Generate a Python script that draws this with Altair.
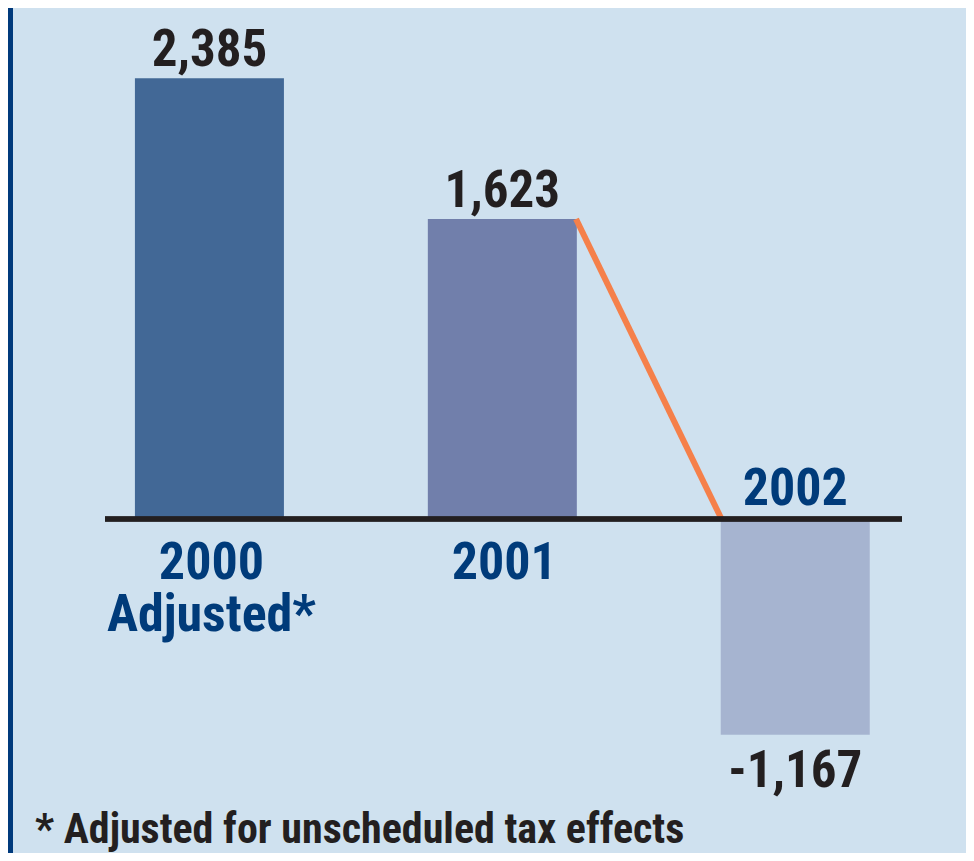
import altair as alt
import pandas as pd

# ---- data ----
categories = ["2000\nAdjusted*", "2001", "2002"]
values = [2385, 1623, -1167]
value_labels = ["2,385", "1,623", "-1,167"]
positions = [0, 1, 2]
bar_colors = ["#426896", "#717fab", "#a6b4d0"]
footnote = "* Adjusted for unscheduled tax effects"

W, H = 958, 845
STEP = 296.0      # px between bar centres
BAR_W = 149       # px bar width
half = (BAR_W / 2) / STEP

df = pd.DataFrame({
    "pos": positions,
    "value": values,
    "zero": [0, 0, 0],
    "cat": categories,
    "vlabel": value_labels,
    "color": bar_colors,
})
conn = pd.DataFrame({
    "pos": [positions[1] + half, positions[2] - half],
    "value": [values[1], 0],
})

FONT = "Roboto Condensed, Noto Sans Condensed, Liberation Sans Narrow, Arial Narrow, Inter"
BLUE_TXT = "#003b7a"
BLACK_TXT = "#231f20"

xs = alt.Scale(domain=[-0.6706, 2.5659], nice=False, zero=False)
ys = alt.Scale(domain=[-1807, 2765], nice=False, zero=False)
X = alt.X("pos:Q", scale=xs, axis=None)
Y = alt.Y("value:Q", scale=ys, axis=None)
Y0 = alt.Y("zero:Q", scale=ys, axis=None)

base = alt.Chart(df)

bars = base.mark_bar(size=BAR_W).encode(
    x=X, y=Y, y2="zero:Q",
    color=alt.Color("color:N", scale=None),
)

connector = alt.Chart(conn).mark_line(color="#f5804a", strokeWidth=6, strokeCap="butt").encode(
    x=X, y=Y
)

zero_rule = base.mark_rule(color=BLACK_TXT, strokeWidth=5).encode(
    x=alt.value(97), x2=alt.value(894), y=Y0
)

pos_vals = base.transform_filter(alt.datum.value > 0).mark_text(
    font=FONT, fontWeight="bold", fontSize=51, color=BLACK_TXT,
    baseline="alphabetic", align="center", dy=-12,
).encode(x=X, y=Y, text="vlabel:N")

neg_vals = base.transform_filter(alt.datum.value < 0).mark_text(
    font=FONT, fontWeight="bold", fontSize=51, color=BLACK_TXT,
    baseline="alphabetic", align="center", dy=52,
).encode(x=X, y=Y, text="vlabel:N")

pos_cats = base.transform_filter(alt.datum.value > 0).mark_text(
    font=FONT, fontWeight="bold", fontSize=52, color=BLUE_TXT,
    baseline="alphabetic", align="center", dx=2, dy=60, lineBreak="\n", lineHeight=52,
).encode(x=X, y=Y0, text="cat:N")

neg_cats = base.transform_filter(alt.datum.value < 0).mark_text(
    font=FONT, fontWeight="bold", fontSize=52, color=BLUE_TXT,
    baseline="alphabetic", align="center", dy=-14,
).encode(x=X, y=Y0, text="cat:N")

border = base.mark_rect(color="#003a7c").encode(
    x=alt.value(0), x2=alt.value(5), y=alt.value(0), y2=alt.value(H)
)

note = alt.Chart(pd.DataFrame({"t": [footnote]})).mark_text(
    font=FONT, fontWeight="bold", fontSize=42, color=BLACK_TXT,
    baseline="alphabetic", align="left",
).encode(x=alt.value(27), y=alt.value(835), text="t:N")

chart = alt.layer(
    border, bars, connector, zero_rule, pos_vals, neg_vals, pos_cats, neg_cats, note
).properties(
    width=W, height=H, padding=0, autosize=alt.AutoSizeParams(type="none"),
    background="#cfe1ef",
).configure_view(stroke=None)

chart.save("out.html", embed_options={"renderer": "svg", "actions": False})
